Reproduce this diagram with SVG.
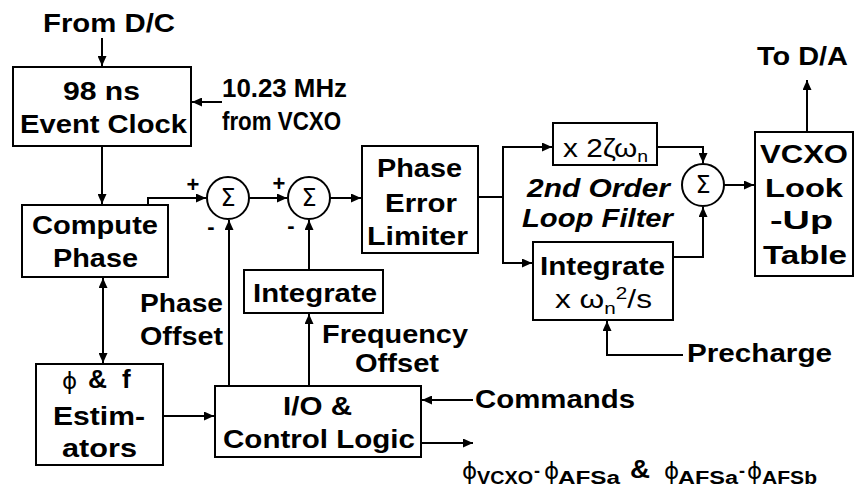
<svg xmlns="http://www.w3.org/2000/svg" width="857" height="492" viewBox="0 0 857 492">
<defs>
<marker id="ah" markerUnits="userSpaceOnUse" markerWidth="11" markerHeight="9" refX="10" refY="4.5" orient="auto-start-reverse"><path d="M0,0 L10,4.5 L0,9 z" fill="#000"/></marker>
</defs>
<style>
.b{fill:#fff;stroke:#000;stroke-width:2}
.c{fill:none;stroke:#000;stroke-width:2;marker-end:url(#ah)}
.n{fill:none;stroke:#000;stroke-width:2}
.t{font-family:"Liberation Sans",Arial,sans-serif;font-weight:bold;font-size:26px;fill:#000}
.r{font-family:"Liberation Sans",Arial,sans-serif;font-weight:normal;font-size:26px;fill:#000}
.s{font-family:"DejaVu Sans","Liberation Sans",sans-serif;font-weight:normal;font-size:24px;fill:#000;text-anchor:middle}
.p{font-family:"DejaVu Sans","Liberation Sans",sans-serif;font-weight:normal;font-size:23px;fill:#000}
.sb{font-family:"Liberation Sans",Arial,sans-serif;font-weight:bold;font-size:18px;fill:#000}
.pm{font-family:"Liberation Sans",Arial,sans-serif;font-weight:bold;font-size:22px;fill:#000;text-anchor:middle}
</style>
<rect width="857" height="492" fill="#fff"/>

<g id="connectors">
<path class="c" d="M102,38 V66"/>
<path class="c" d="M222,102 H192"/>
<path class="c" d="M102,146 V204"/>
<path class="c" d="M148,205 V198 H206"/>
<path class="c" d="M249,198 H287"/>
<path class="c" d="M330,198 H361"/>
<path class="c" d="M103,278 V363" marker-start="url(#ah)"/>
<path class="c" d="M229,386 V220"/>
<path class="c" d="M309,386 V314"/>
<path class="c" d="M309,270 V220"/>
<path class="c" d="M163,416 H214"/>
<path class="c" d="M473,400 H422"/>
<path class="c" d="M421,443 H473"/>
<path class="n" d="M478,197 H503"/>
<path class="c" d="M552,147 H503 V263 H532" marker-start="url(#ah)"/>
<path class="c" d="M657,147 H703 V163"/>
<path class="c" d="M673,257 H703 V207"/>
<path class="c" d="M724,185 H754"/>
<path class="c" d="M807,132 V80"/>
<path class="c" d="M683,355 H607 V321"/>
</g>

<g id="from-dc"><text class="t" x="43" y="32" font-size="24" textLength="132" lengthAdjust="spacingAndGlyphs">From D/C</text></g>

<g id="event-clock">
<rect class="b" x="13" y="67" width="178" height="79"/>
<text class="t" x="63" y="100" textLength="77" lengthAdjust="spacingAndGlyphs">98 ns</text>
<text class="t" x="20" y="133" textLength="167" lengthAdjust="spacingAndGlyphs">Event Clock</text>
</g>

<g id="vcxo-in">
<text class="t" x="222" y="97" textLength="125" lengthAdjust="spacingAndGlyphs">10.23 MHz</text>
<text class="t" x="222" y="130" textLength="119" lengthAdjust="spacingAndGlyphs">from VCXO</text>
</g>

<g id="compute-phase">
<rect class="b" x="22" y="205" width="146" height="72"/>
<text class="t" x="32" y="234" textLength="126" lengthAdjust="spacingAndGlyphs">Compute</text>
<text class="t" x="53" y="267" textLength="85" lengthAdjust="spacingAndGlyphs">Phase</text>
</g>

<g id="sum1">
<circle class="b" cx="228" cy="198" r="21"/>
<text class="s" x="228" y="206">Σ</text>
<text class="pm" x="193" y="192">+</text>
<text class="pm" x="211" y="234">-</text>
</g>

<g id="sum2">
<circle class="b" cx="309" cy="198" r="21"/>
<text class="s" x="309" y="206">Σ</text>
<text class="pm" x="279" y="191">+</text>
<text class="pm" x="291" y="233">-</text>
</g>

<g id="phase-offset">
<text class="t" x="140" y="312" textLength="83" lengthAdjust="spacingAndGlyphs">Phase</text>
<text class="t" x="140" y="345" textLength="83" lengthAdjust="spacingAndGlyphs">Offset</text>
</g>

<g id="integrate1">
<rect class="b" x="244" y="270" width="139" height="43"/>
<text class="t" x="253" y="302" textLength="124" lengthAdjust="spacingAndGlyphs">Integrate</text>
</g>

<g id="frequency-offset">
<text class="t" x="322" y="343" textLength="146" lengthAdjust="spacingAndGlyphs">Frequency</text>
<text class="t" x="355" y="372" textLength="84" lengthAdjust="spacingAndGlyphs">Offset</text>
</g>

<g id="phase-error-limiter">
<rect class="b" x="362" y="146" width="116" height="107"/>
<text class="t" x="377" y="177" textLength="85" lengthAdjust="spacingAndGlyphs">Phase</text>
<text class="t" x="385" y="212" textLength="72" lengthAdjust="spacingAndGlyphs">Error</text>
<text class="t" x="367" y="245" textLength="101" lengthAdjust="spacingAndGlyphs">Limiter</text>
</g>

<g id="gain">
<rect class="b" x="553" y="123" width="104" height="42"/>
<text class="r" x="563" y="157" textLength="85" lengthAdjust="spacingAndGlyphs">x 2ζω<tspan font-size="17" dy="5">n</tspan></text>
</g>

<g id="loop-filter-label">
<text class="t" x="527" y="197" font-style="italic" textLength="143" lengthAdjust="spacingAndGlyphs">2nd Order</text>
<text class="t" x="522" y="227" font-style="italic" textLength="151" lengthAdjust="spacingAndGlyphs">Loop Filter</text>
</g>

<g id="integrate2">
<rect class="b" x="533" y="242" width="140" height="78"/>
<text class="t" x="540" y="275" textLength="125" lengthAdjust="spacingAndGlyphs">Integrate</text>
<text class="r" x="555" y="308" textLength="97" lengthAdjust="spacingAndGlyphs">x ω<tspan font-size="17" dy="6">n</tspan><tspan font-size="17" dy="-15">2</tspan><tspan dy="9">/s</tspan></text>
</g>

<g id="sum3">
<circle class="b" cx="703" cy="185" r="21"/>
<text class="s" x="703" y="193">Σ</text>
</g>

<g id="vcxo-table">
<rect class="b" x="755" y="132" width="98" height="144"/>
<text class="t" x="760" y="163" textLength="88" lengthAdjust="spacingAndGlyphs">VCXO</text>
<text class="t" x="765" y="197" textLength="78" lengthAdjust="spacingAndGlyphs">Look</text>
<text class="t" x="770" y="229" textLength="63" lengthAdjust="spacingAndGlyphs">-Up</text>
<text class="t" x="763" y="264" textLength="84" lengthAdjust="spacingAndGlyphs">Table</text>
</g>

<g id="to-da"><text class="t" x="757" y="65" textLength="91" lengthAdjust="spacingAndGlyphs">To D/A</text></g>

<g id="precharge"><text class="t" x="687" y="362" textLength="145" lengthAdjust="spacingAndGlyphs">Precharge</text></g>

<g id="estimators">
<rect class="b" x="36" y="364" width="127" height="101"/>
<text class="p" x="62" y="389">ϕ</text>
<text class="t" x="88" y="388" textLength="19" lengthAdjust="spacingAndGlyphs">&amp;</text>
<text class="t" x="122" y="388">f</text>
<text class="t" x="53" y="425" textLength="92" lengthAdjust="spacingAndGlyphs">Estim-</text>
<text class="t" x="62" y="457" textLength="75" lengthAdjust="spacingAndGlyphs">ators</text>
</g>

<g id="io-control">
<rect class="b" x="215" y="386" width="206" height="71"/>
<text class="t" x="283" y="415" textLength="69" lengthAdjust="spacingAndGlyphs">I/O &amp;</text>
<text class="t" x="223" y="448" textLength="192" lengthAdjust="spacingAndGlyphs">Control Logic</text>
</g>

<g id="commands"><text class="t" x="475" y="408" textLength="160" lengthAdjust="spacingAndGlyphs">Commands</text></g>

<g id="outputs">
<text class="p" x="462" y="479">ϕ</text>
<text class="sb" x="477" y="484" textLength="56" lengthAdjust="spacingAndGlyphs">VCXO</text>
<text class="sb" x="534" y="477">-</text>
<text class="p" x="544" y="479">ϕ</text>
<text class="sb" x="558" y="484" textLength="62" lengthAdjust="spacingAndGlyphs">AFSa</text>
<text class="t" x="630" y="478" font-size="22" textLength="20" lengthAdjust="spacingAndGlyphs">&amp;</text>
<text class="p" x="664" y="479">ϕ</text>
<text class="sb" x="678" y="484" textLength="60" lengthAdjust="spacingAndGlyphs">AFSa</text>
<text class="sb" x="739" y="477">-</text>
<text class="p" x="747" y="479">ϕ</text>
<text class="sb" x="762" y="484" textLength="55" lengthAdjust="spacingAndGlyphs">AFSb</text>
</g>
</svg>
